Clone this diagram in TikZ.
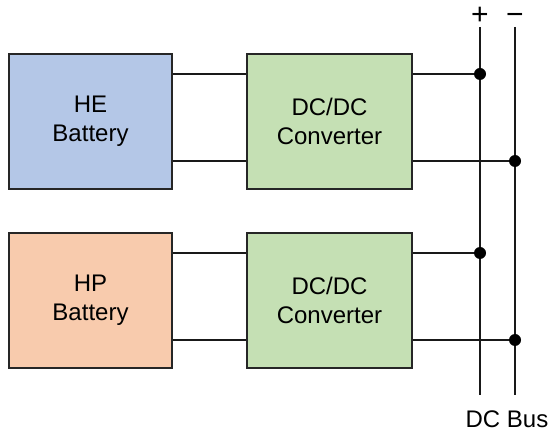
\documentclass[tikz,border=0pt]{standalone}
\usepackage{fontspec}
\setmainfont{Liberation Sans}
\usetikzlibrary{positioning}

\tikzset{
  block/.style={draw=black!85, line width=1.8pt, minimum width=163pt, minimum height=135pt, align=center, font=\fontsize{24}{29}\selectfont, inner sep=0pt},
  wire/.style={line width=2pt, black!90},
  joint/.style={circle, fill=black, inner sep=0pt, minimum size=12pt},
  lbl/.style={font=\fontsize{24}{29}\selectfont, inner sep=0pt}
}
\definecolor{heblue}{HTML}{B4C7E7}
\definecolor{hporange}{HTML}{F8CBAD}
\definecolor{convgreen}{HTML}{C5E0B4}

\begin{document}
\begin{tikzpicture}[x=1pt,y=-1pt]

\useasboundingbox (0,0) rectangle (555,438);

\node[block, fill=heblue] (heb) at (90.5,121.5) {HE\\Battery};
\node[block, fill=hporange] (hpb) at (90.5,300.5) {HP\\Battery};
\node[block, fill=convgreen, minimum width=165pt] (conv1) at (329.5,121.5) {DC/DC\\Converter};
\node[block, fill=convgreen, minimum width=165pt] (conv2) at (329.5,300.5) {DC/DC\\Converter};

% bus
\node[lbl, font=\fontsize{30}{30}\selectfont, anchor=base] (plus) at (480,25) {+};
\node[lbl, font=\fontsize{30}{30}\selectfont, anchor=base] (minus) at (515,25) {\char"2212};
\node[lbl] (dcbus) at (507,419) {DC Bus};
\coordinate (ptop) at (480,27);
\coordinate (pbot) at (480,395);
\coordinate (mtop) at (515,27);
\coordinate (mbot) at (515,395);
\draw[wire] (ptop) -- (pbot);
\draw[wire] (mtop) -- (mbot);

% joints on the bus
\node[joint] (j1) at (480,74) {};
\node[joint] (j2) at (515,161) {};
\node[joint] (j3) at (480,253) {};
\node[joint] (j4) at (515,340) {};

\draw[wire] (heb.east |- j1) -- (conv1.west |- j1);
\draw[wire] (heb.east |- j2) -- (conv1.west |- j2);
\draw[wire] (conv1.east |- j1) -- (j1);
\draw[wire] (conv1.east |- j2) -- (j2);

\draw[wire] (hpb.east |- j3) -- (conv2.west |- j3);
\draw[wire] (hpb.east |- j4) -- (conv2.west |- j4);
\draw[wire] (conv2.east |- j3) -- (j3);
\draw[wire] (conv2.east |- j4) -- (j4);

\end{tikzpicture}
\end{document}
